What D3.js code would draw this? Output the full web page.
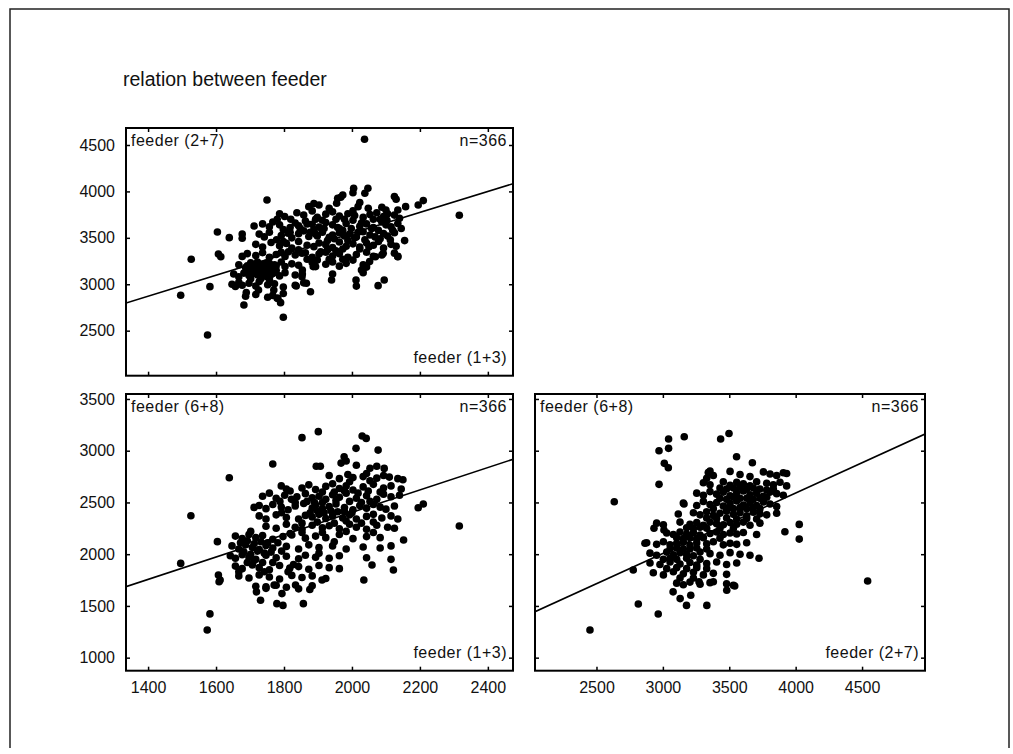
<!DOCTYPE html>
<html>
<head>
<meta charset="utf-8">
<script src="https://cdn.jsdelivr.net/npm/d3@7"></script>
<style>
  body { margin: 0; background: #fff; }
  svg text { font-family: "Liberation Sans", Arial, sans-serif; fill: #111; }
</style>
</head>
<body>
<svg id="chart" width="1013" height="754"></svg>
<script>
// tick values
const ticksFeeder13 = [1400, 1600, 1800, 2000, 2200, 2400];
const ticksFeeder27 = [2500, 3000, 3500, 4000, 4500];
const ticksFeeder68 = [1000, 1500, 2000, 2500, 3000, 3500];
const ticksFeeder27x = [2500, 3000, 3500, 4000, 4500];

// fitted lines at the panel edges
const fit13vs27 = [[1335, 2798], [2474, 4083]];
const fit13vs68 = [[1335, 1686], [2474, 2917]];
const fit27vs68 = [[2037, 1444], [4974, 3161]];

// feeder (1+3) vs feeder (2+7)
const pts13vs27 = [
  [2037,4562],[2316,3743],[1496,2881],[1575,2453],[1527,3269],[1582,2974],[1604,3563],[1639,3502],[1677,3542],[1677,3495],
  [1607,3326],[1614,3297],[1682,2777],[1798,2644],[1750,3908],[1712,3628],[1689,2910],[1725,2938],[1790,2802],[1780,2848],
  [1770,2938],[1836,2981],[1866,3010],[1878,2920],[1940,3046],[2012,3046],[2077,2985],[2095,3046],[2135,3297],[2155,3470],
  [2210,3901],[2195,3854],[2125,3944],[2130,3915],[2158,3836],[2005,4034],[2047,4034],[1967,3937],[2028,3154],[2033,3125],
  [2052,3244],[2069,3297],[2092,3333],[1854,3154],[1854,3111],[1886,3190],
  [2038,3980],[2003,3985],[1958,3926],[1973,3960],
  [1873,3836],[1903,3854],[1933,3818],[1955,3872],[2018,3836],[2048,3818],[2088,3829],[2100,3800],[2135,3800],[1888,3870],[2023,3880],
  [1787,3760],[1802,3730],[1838,3770],[1858,3745],[1883,3790],[1898,3720],[1923,3755],[1943,3780],[1963,3735],[1988,3760],
  [2003,3790],[2033,3720],[2053,3750],[2073,3770],[2093,3730],[2105,3760],[2125,3745],[2140,3710],
  [1737,3650],[1757,3620],[1767,3670],[1787,3640],[1818,3610],[1833,3660],[1843,3630],[1863,3680],[1883,3645],[1903,3615],
  [1923,3665],[1943,3640],[1963,3600],[1983,3655],[2003,3690],[2023,3625],[2043,3650],[2063,3610],[2088,3670],[2100,3640],
  [2115,3620],[2135,3655],[2145,3600],
  [1727,3540],[1742,3510],[1757,3560],[1792,3525],[1812,3550],[1823,3500],[1843,3545],[1858,3575],[1873,3515],[1893,3540],
  [1913,3560],[1933,3505],[1943,3530],[1963,3555],[1978,3520],[1993,3540],[2008,3500],[2033,3565],[2053,3530],[2068,3510],
  [2093,3545],[2105,3520],[2125,3555],
  [1717,3430],[1737,3400],[1762,3450],[1787,3415],[1807,3440],[1823,3390],[1843,3460],[1868,3420],[1888,3405],[1903,3445],
  [1923,3425],[1943,3395],[1963,3455],[1983,3410],[2003,3435],[2023,3400],[2043,3445],[2063,3420],[2093,3390],[2115,3430],[2130,3410],
  [1677,3300],[1692,3330],[1717,3310],[1737,3340],[1757,3290],[1777,3320],[1792,3345],[1803,3300],[1833,3315],[1853,3335],
  [1883,3290],[1903,3325],[1923,3345],[1943,3305],[1963,3330],[1988,3290],[2013,3320],[2043,3345],[2063,3300],[2088,3315],
  [2125,3335],[2135,3300],
  [1667,3210],[1687,3180],[1702,3230],[1712,3195],[1722,3240],[1737,3215],[1747,3185],[1757,3225],[1777,3200],[1792,3240],
  [1803,3190],[1823,3220],[1843,3205],[1883,3235],[1893,3190],[1923,3215],[1943,3240],[1963,3195],[1983,3225],[2033,3210],[2043,3185],
  [1652,3110],[1667,3080],[1682,3120],[1697,3095],[1707,3130],[1722,3100],[1737,3135],[1747,3085],[1767,3115],[1787,3090],
  [1803,3125],[1833,3100],[1853,3080],[1943,3110],
  [1647,3000],[1657,2975],[1667,3020],[1677,2990],[1697,3010],[1717,2980],[1727,3030],[1752,2995],[1772,3005],[1798,2970],
  [1833,2990],[1858,3015],[2013,2980],
  [1687,2870],[1717,2890],[1752,2860],[1767,2880],[1782,2850],[1798,2900],
  [1707,3160],[1717,3140],[1732,3170],[1742,3150],[1752,3130],[1762,3160],[1727,3120],[1697,3150],[1717,3190],[1777,3150],
  [1702,3060],[1732,3060],[1757,3050],
  [1712,3185],[1722,3205],[1737,3195],[1747,3225],[1767,3185],[1772,3210],[1692,3200],[1707,3110],[1762,3105],[1742,3100],
  [1877,3560],[1888,3590],[1898,3520],[1918,3600],[1928,3470],[1948,3490],[1958,3610],[1973,3580],[1988,3470],[1998,3600],
  [2013,3510],[2018,3560],[2038,3480],[2058,3600],[2078,3580],[2083,3490],[1868,3650],[1893,3700],[1913,3690],[1953,3700],
  [1978,3700],[2008,3740],[2028,3660],[2063,3700],[2083,3700],[2103,3690],[1908,3350],[1928,3370],[1953,3360],[1973,3380],
  [1843,3370],[1863,3340],[1813,3350],[1798,3460],[1778,3480],[1818,3560],[1848,3600],[1798,3590],[1868,3270],[1898,3260],
  [1933,3270],[1973,3270],[2003,3260],[2023,3380],[2050,3400],[2078,3460],[1780,3700],[1820,3700],[2113,3480],[2120,3580]
];

// feeder (1+3) vs feeder (6+8)
const pts13vs68 = [
  [1901,3184],[1853,3126],[2030,3142],[2042,3119],[2012,3023],[2077,3006],[1767,2871],[1639,2739],[1526,2372],[1496,1911],
  [2316,2272],[2195,2449],[2210,2485],[1604,2121],[2152,2137],[2122,1847],[2035,1750],[2059,1895],[1977,2942],[2095,2829],
  [1712,2452],[1607,1799],[1612,1750],
  [1574,1268],[1582,1423],[1609,1734],[1719,1636],[1731,1555],[1747,1685],[1771,1701],[1794,1619],[1779,1522],[1797,1505],
  [1834,1701],[1857,1522],[1876,1659],[1912,1750],
  [1895,2850],[1907,2850],[1968,2880],[1983,2900],[2013,2860],[2053,2830],[2073,2850],
  [1933,2760],[1963,2730],[1988,2770],[2003,2740],[2033,2750],[2043,2780],[2073,2735],[2093,2760],[2110,2745],[2135,2730],[2150,2720],
  [1792,2660],[1807,2630],[1853,2640],[1873,2670],[1893,2625],[1923,2655],[1943,2680],[1963,2635],[1983,2660],[2003,2620],
  [2033,2650],[2063,2675],[2093,2640],[2115,2660],[2145,2630],
  [1737,2560],[1757,2590],[1777,2540],[1802,2570],[1822,2530],[1838,2555],[1863,2585],[1883,2545],[1903,2560],[1923,2530],
  [1943,2575],[1963,2550],[1983,2590],[2013,2540],[2043,2565],[2073,2530],[2093,2580],[2115,2555],[2140,2570],
  [1727,2470],[1747,2440],[1767,2480],[1792,2455],[1812,2430],[1833,2465],[1858,2490],[1883,2445],[1893,2475],[1913,2440],
  [1933,2460],[1953,2485],[1978,2450],[2003,2430],[2023,2470],[2043,2445],[2063,2480],[2083,2455],[2100,2435],[2125,2465],
  [1727,2370],[1747,2340],[1777,2380],[1807,2355],[1843,2340],[1863,2375],[1883,2360],[1903,2385],[1923,2345],[1943,2370],
  [1973,2350],[1993,2380],[2013,2340],[2043,2365],[2063,2385],[2088,2350],[2115,2370],[2135,2340],
  [1747,2270],[1777,2250],[1807,2290],[1833,2260],[1853,2240],[1883,2280],[1913,2255],[1933,2275],[1963,2245],[1993,2290],
  [2013,2260],[2043,2240],[2073,2280],[2105,2260],[2125,2250],
  [1657,2175],[1677,2150],[1697,2190],[1717,2160],[1737,2180],[1767,2145],[1797,2170],[1823,2185],[1863,2155],[1893,2175],
  [1923,2160],[1963,2190],[2003,2150],[2043,2170],[2083,2160],
  [1647,2080],[1667,2050],[1687,2090],[1707,2065],[1727,2045],[1747,2085],[1767,2060],[1807,2075],[1843,2050],[1873,2090],
  [1903,2065],[1943,2080],[1983,2050],[2033,2070],[2083,2060],[2115,2080],
  [1642,1985],[1657,1960],[1677,1995],[1697,1970],[1717,1950],[1747,1990],[1777,1965],[1807,1980],[1843,1955],[1863,1990],
  [1893,1970],[1933,1960],[1963,1985],[2043,1965],[2115,1950],
  [1657,1885],[1677,1860],[1707,1895],[1727,1870],[1757,1850],[1787,1890],[1817,1865],[1843,1880],[1873,1855],[1903,1890],
  [1933,1870],[1963,1860],
  [1667,1790],[1697,1770],[1727,1800],[1757,1780],[1787,1760],[1823,1795],[1853,1775],[1883,1790],[1923,1765],
  [1717,1690],[1747,1670],[1777,1700],[1807,1680],[1843,1665],[1883,1695],
  [1672,2110],[1692,2130],[1712,2100],[1732,2120],[1752,2110],[1682,2020],[1702,2000],[1722,2030],[1742,2010],[1762,2020],
  [1692,1920],[1712,1940],[1737,1920],[1767,1920],[1782,2110],[1793,2030],[1667,1830],[1742,1830],[1812,1830],[1702,2220],
  [1877,2400],[1898,2420],[1918,2400],[1938,2420],[1958,2410],[1978,2410],[2000,2400],[1868,2510],[1890,2500],[1913,2500],
  [1953,2520],[1993,2510],[2028,2500],[2053,2510],[1913,2600],[1948,2600],[1978,2610],[2018,2590],[2048,2610],[2083,2600],
  [1818,2610],[1833,2500],[1788,2510],[1793,2400],[1853,2300],[1898,2310],[1948,2300],[1983,2320],[2028,2300],[2063,2310],
  [1818,2200],[1853,2210],[1913,2210],[1983,2220],[2063,2210],[1948,2120],[1903,2010],[1828,1900],[1993,2700],[2053,2710]
];

// feeder (2+7) vs feeder (6+8)
const pts27vs68 = [
  [2634,2507],[3043,3113],[3043,3023],[2971,3000],[3161,3135],[3435,3113],[3498,3167],[3011,2878],[3041,2836],[2971,2675],
  [3555,2942],[3674,2884],[3907,2787],[4027,2288],[4027,2146],[4542,1741],[3919,2217],[3724,1960],[3159,2485],[3116,2388],
  [2933,2250],[3008,2233],[2865,2105],[2777,1847],[3355,2804],[3330,2733],
  [2451,1268],[2815,1519],[2965,1422],[3077,1636],[3130,1571],[3178,1505],[3210,1603],[3331,1505],[3481,1652],[3541,1692],
  [3380,1734],[3272,1734],
  [3342,2790],[3380,2760],[3506,2800],[3581,2770],[3656,2750],[3757,2795],[3807,2775],[3857,2760],[3932,2780],
  [3305,2690],[3355,2670],[3455,2700],[3506,2665],[3556,2695],[3606,2680],[3656,2660],[3706,2700],[3782,2685],[3832,2670],
  [3882,2695],[3932,2660],
  [3255,2590],[3305,2570],[3355,2605],[3405,2580],[3455,2600],[3506,2565],[3556,2595],[3606,2610],[3656,2575],[3706,2590],
  [3757,2560],[3807,2600],[3857,2585],[3907,2570],
  [3154,2495],[3255,2470],[3305,2510],[3355,2480],[3405,2500],[3455,2465],[3506,2490],[3556,2515],[3606,2475],[3656,2495],
  [3706,2470],[3757,2505],[3807,2485],[3857,2460],
  [3230,2400],[3280,2380],[3330,2410],[3380,2375],[3430,2395],[3480,2415],[3531,2385],[3581,2400],[3631,2370],[3681,2405],
  [3731,2390],[3782,2380],[3857,2395],
  [2953,2300],[3004,2285],[3129,2310],[3204,2290],[3255,2305],[3305,2280],[3355,2310],[3405,2295],[3455,2285],[3506,2305],
  [3556,2290],[3606,2310],[3656,2280],[3731,2300],
  [3029,2205],[3079,2190],[3129,2215],[3179,2195],[3230,2210],[3280,2185],[3355,2200],[3405,2215],[3455,2190],[3506,2205],
  [3556,2195],[3606,2210],[3706,2190],
  [2878,2110],[2953,2095],[3004,2120],[3054,2090],[3104,2105],[3154,2115],[3204,2085],[3255,2110],[3330,2100],[3380,2120],
  [3455,2090],[3506,2105],[3556,2095],[3631,2110],
  [2903,2010],[2953,1990],[3029,2020],[3079,1995],[3129,2015],[3179,2000],[3230,1985],[3280,2020],[3355,2005],[3430,1990],
  [3506,2015],[3581,2000],[3656,1990],
  [2903,1915],[2978,1900],[3054,1925],[3129,1905],[3204,1920],[3255,1895],[3330,1910],[3405,1925],[3480,1900],[3556,1915],
  [2928,1820],[3004,1800],[3079,1830],[3154,1810],[3230,1825],[3305,1800],[3380,1815],[3480,1805],
  [3104,1720],[3154,1705],[3204,1730],[3280,1710],[3355,1725],[3480,1715],[3531,1700],
  [3430,2540],[3480,2530],[3531,2550],[3581,2540],[3631,2540],[3681,2530],[3731,2540],[3782,2550],[3430,2640],[3480,2630],
  [3531,2640],[3581,2650],[3631,2630],[3681,2640],[3731,2630],[3782,2620],[3832,2630],[3480,2440],[3531,2440],[3581,2450],
  [3631,2440],[3681,2450],[3731,2440],[3380,2440],[3330,2350],[3405,2345],[3480,2350],[3556,2340],[3631,2345],[3706,2340],
  [3179,2255],[3230,2250],[3280,2260],[3330,2250],[3430,2250],[3531,2250],[3104,2160],[3154,2150],[3204,2160],[3255,2150],
  [3305,2160],[3430,2155],[3054,2050],[3104,2060],[3154,2050],[3204,2050],[3255,2060],[3330,2050],[3004,1950],[3054,1960],
  [3104,1950],[3179,1960],[3280,1950],[3029,1860],[3104,1870],[3179,1860],[3255,1870],[3330,1860],[3129,1770],[3230,1770]
];

const panels = [
  {
    left: 126, right: 513, top: 128, bottom: 375.7,
    xDomain: [1335, 2474], yDomain: [2015, 4683],
    xTicks: ticksFeeder13, yTicks: ticksFeeder27,
    showX: false, showY: true,
    points: pts13vs27, fit: fit13vs27,
    yName: 'feeder (2+7)', xName: 'feeder (1+3)', n: 'n=366'
  },
  {
    left: 126, right: 513, top: 394, bottom: 670.7,
    xDomain: [1335, 2474], yDomain: [874, 3548],
    xTicks: ticksFeeder13, yTicks: ticksFeeder68,
    showX: true, showY: true,
    points: pts13vs68, fit: fit13vs68,
    yName: 'feeder (6+8)', xName: 'feeder (1+3)', n: 'n=366'
  },
  {
    left: 535, right: 925, top: 394, bottom: 670.7,
    xDomain: [2037, 4974], yDomain: [874, 3548],
    xTicks: ticksFeeder27x, yTicks: ticksFeeder68,
    showX: true, showY: false,
    points: pts27vs68, fit: fit27vs68,
    yName: 'feeder (6+8)', xName: 'feeder (2+7)', n: 'n=366'
  }
];

const svg = d3.select('#chart');

// outer frame of the page
svg.append('path')
  .attr('d', 'M10,748 V9 H1009 V748')
  .attr('fill', 'none')
  .attr('stroke', '#222')
  .attr('stroke-width', 1.5);

svg.append('text')
  .attr('x', 123)
  .attr('y', 86)
  .attr('font-size', 19.5)
  .text('relation between feeder');

function drawPanel(p, i) {
  const x = d3.scaleLinear().domain(p.xDomain).range([p.left, p.right]);
  const y = d3.scaleLinear().domain(p.yDomain).range([p.bottom, p.top]);
  const g = svg.append('g');

  g.append('clipPath')
    .attr('id', `clip${i}`)
    .append('rect')
    .attr('x', p.left)
    .attr('y', p.top)
    .attr('width', p.right - p.left)
    .attr('height', p.bottom - p.top);

  const inner = g.append('g').attr('clip-path', `url(#clip${i})`);

  inner.selectAll('circle')
    .data(p.points)
    .join('circle')
    .attr('cx', d => x(d[0]))
    .attr('cy', d => y(d[1]))
    .attr('r', 3.8)
    .attr('fill', '#000');

  inner.append('line')
    .attr('x1', x(p.fit[0][0]))
    .attr('y1', y(p.fit[0][1]))
    .attr('x2', x(p.fit[1][0]))
    .attr('y2', y(p.fit[1][1]))
    .attr('stroke', '#000')
    .attr('stroke-width', 1.6);

  // axes, ticks point inward on all four sides
  const fmt = d3.format('d');
  const bottom = g.append('g')
    .attr('transform', `translate(0,${p.bottom})`)
    .call(d3.axisBottom(x).tickValues(p.xTicks).tickSize(-4).tickSizeOuter(0).tickPadding(11)
      .tickFormat(p.showX ? fmt : ''));
  const left = g.append('g')
    .attr('transform', `translate(${p.left},0)`)
    .call(d3.axisLeft(y).tickValues(p.yTicks).tickSize(-4).tickSizeOuter(0).tickPadding(11)
      .tickFormat(p.showY ? fmt : ''));
  const top = g.append('g')
    .attr('transform', `translate(0,${p.top})`)
    .call(d3.axisTop(x).tickValues(p.xTicks).tickSize(-4).tickSizeOuter(0).tickFormat(''));
  const right = g.append('g')
    .attr('transform', `translate(${p.right},0)`)
    .call(d3.axisRight(y).tickValues(p.yTicks).tickSize(-4).tickSizeOuter(0).tickFormat(''));

  [bottom, left, top, right].forEach(a => {
    a.select('.domain').remove();
    a.selectAll('.tick line').attr('stroke', '#000').attr('stroke-width', 1.5);
    a.selectAll('.tick text')
      .attr('font-size', 16)
      .attr('font-family', '"Liberation Sans", Arial, sans-serif')
      .attr('fill', '#111');
  });

  g.append('rect')
    .attr('x', p.left)
    .attr('y', p.top)
    .attr('width', p.right - p.left)
    .attr('height', p.bottom - p.top)
    .attr('fill', 'none')
    .attr('stroke', '#000')
    .attr('stroke-width', 2);

  g.append('text')
    .attr('x', p.left + 5)
    .attr('y', p.top + 18)
    .attr('font-size', 16)
    .attr('letter-spacing', 0.5)
    .text(p.yName);

  g.append('text')
    .attr('x', p.right - 6)
    .attr('y', p.top + 18)
    .attr('text-anchor', 'end')
    .attr('font-size', 16)
    .attr('letter-spacing', 0.5)
    .text(p.n);

  g.append('text')
    .attr('x', p.right - 6)
    .attr('y', p.bottom - 13)
    .attr('text-anchor', 'end')
    .attr('font-size', 16)
    .attr('letter-spacing', 0.5)
    .text(p.xName);
}

panels.forEach(drawPanel);
</script>
</body>
</html>
